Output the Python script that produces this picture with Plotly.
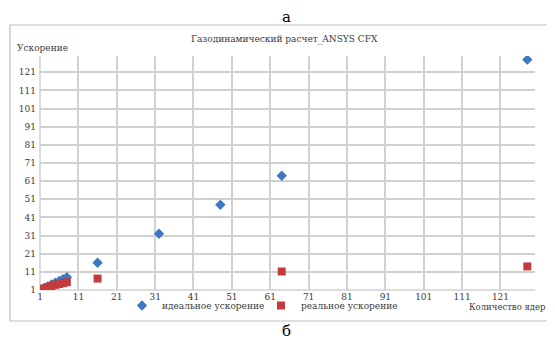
import plotly.graph_objects as go

cores_ideal = [1, 2, 3, 4, 5, 6, 7, 8, 16, 32, 48, 64, 128]
speedup_ideal = [1, 2, 3, 4, 5, 6, 7, 8, 16, 32, 48, 64, 128]
cores_real = [1, 2, 3, 4, 5, 6, 7, 8, 16, 64, 128]
speedup_real = [1, 1.8, 2.5, 3.2, 3.8, 4.3, 4.8, 5.3, 7.3, 11.2, 14.0]
tick_vals = [1, 11, 21, 31, 41, 51, 61, 71, 81, 91, 101, 111, 121]
tick_text = [str(v) for v in tick_vals]

W, H = 555, 340
L, R, T, B = 32, 28, 48, 58
pw, ph = W - L - R, H - T - B

def px(xp):
    return (xp - L) / pw

def py(yp):
    return (H - B - yp) / ph

FONT = "DejaVu Serif"
GRID = "#d0d0d0"
TXT = "#3a3a3a"
FS = 9

fig = go.Figure()
fig.add_trace(go.Scatter(
    x=cores_ideal, y=speedup_ideal, mode="markers", name="идеальное ускорение",
    marker=dict(symbol="diamond", size=8, color="#3d78c0"),
))
fig.add_trace(go.Scatter(
    x=cores_real, y=speedup_real, mode="markers", name="реальное ускорение",
    marker=dict(symbol="square", size=8, color="#c33b3c"),
))

fig.update_layout(
    width=W, height=H,
    margin=dict(l=L, r=R, t=T, b=B, pad=0),
    paper_bgcolor="white", plot_bgcolor="white",
    font=dict(family=FONT, size=FS, color=TXT),
    showlegend=True,
    legend=dict(
        orientation="h", x=px(114), y=py(283), xanchor="left", yanchor="top",
        entrywidth=94, entrywidthmode="pixels",
        font=dict(family=FONT, size=FS, color=TXT),
        itemwidth=30, bgcolor="rgba(0,0,0,0)", borderwidth=0,
    ),
    xaxis=dict(
        range=[1, 130], tickmode="array", tickvals=tick_vals, ticktext=tick_text,
        showgrid=True, gridcolor=GRID, gridwidth=1.5, zeroline=False,
        showline=False, ticks="", ticklen=0,
        tickfont=dict(family=FONT, size=FS, color=TXT),
    ),
    yaxis=dict(
        range=[1, 130], tickmode="array", tickvals=tick_vals, ticktext=tick_text,
        showgrid=True, gridcolor=GRID, gridwidth=1.5, zeroline=False,
        showline=False, ticks="", ticklen=0, ticklabelstandoff=3,
        tickfont=dict(family=FONT, size=FS, color=TXT),
    ),
)

fig.add_shape(type="line", xref="paper", yref="paper", x0=0, x1=1, y0=0, y1=0,
              line=dict(color=GRID, width=1.5), layer="below")
fig.add_shape(type="line", xref="paper", yref="paper", x0=0, x1=0, y0=0, y1=1,
              line=dict(color=GRID, width=1.5), layer="below")

fig.add_shape(type="rect", xref="paper", yref="paper",
              x0=px(2), x1=px(553), y0=py(313), y1=py(17),
              line=dict(color="#bfbfbf", width=1.2), layer="below")

fig.add_annotation(text="Газодинамический расчет_ANSYS CFX", xref="paper", yref="paper",
                   x=px(276), y=py(31), xanchor="center", yanchor="middle", showarrow=False,
                   font=dict(family=FONT, size=FS, color=TXT))
fig.add_annotation(text="Ускорение", xref="paper", yref="paper",
                   x=px(7), y=py(40), xanchor="left", yanchor="middle", showarrow=False,
                   font=dict(family=FONT, size=FS, color=TXT))
fig.add_annotation(text="Количество ядер", xref="paper", yref="paper",
                   x=px(540), y=py(299), xanchor="right", yanchor="middle", showarrow=False,
                   font=dict(family=FONT, size=8.5, color=TXT))
fig.add_annotation(text="а", xref="paper", yref="paper",
                   x=px(278), y=py(9), xanchor="center", yanchor="middle", showarrow=False,
                   font=dict(family=FONT, size=15, color="#000000"))
fig.add_annotation(text="б", xref="paper", yref="paper",
                   x=px(278), y=py(323), xanchor="center", yanchor="middle", showarrow=False,
                   font=dict(family=FONT, size=15, color="#000000"))

fig.write_html("out.html")
